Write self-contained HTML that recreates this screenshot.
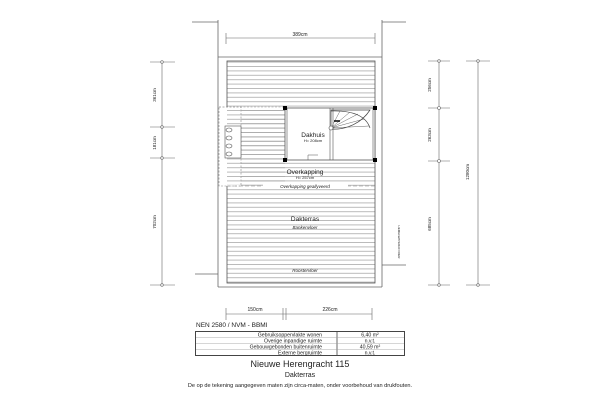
<!DOCTYPE html>
<html><head><meta charset="utf-8"><style>
body{margin:0;background:#fff;width:600px;height:400px;overflow:hidden}
svg text{font-family:"Liberation Sans",sans-serif;fill:#222}
</style></head><body>
<svg width="600" height="400" viewBox="0 0 600 400" xmlns="http://www.w3.org/2000/svg">
<defs>
<pattern id="h" width="10" height="4.4" patternUnits="userSpaceOnUse"><line x1="0" y1="0.5" x2="10" y2="0.5" stroke="#aaa" stroke-width="0.8"/></pattern>
</defs>
<g stroke="#666" stroke-width="0.8" fill="none">
<line x1="218" y1="20" x2="218" y2="287"/>
<line x1="382" y1="20" x2="382" y2="287"/>
<line x1="218" y1="287" x2="382" y2="287"/>
<line x1="218" y1="57" x2="382" y2="57"/>
<line x1="192" y1="22" x2="218" y2="22"/>
<line x1="382" y1="22" x2="406" y2="22"/>
<line x1="195" y1="274" x2="218" y2="274"/>
<line x1="382" y1="265" x2="406" y2="265"/>
</g>
<rect x="227" y="61" width="148" height="222" fill="url(#h)" stroke="#555" stroke-width="0.8"/>
<rect x="219" y="107" width="22" height="79" fill="#fff" stroke="#888" stroke-width="0.6" stroke-dasharray="2,1.5"/>
<rect x="227" y="108" width="58" height="77" fill="url(#h)" stroke="none"/>
<line x1="219" y1="107" x2="285" y2="107" stroke="#999" stroke-width="0.6" stroke-dasharray="2,1.5"/>
<g fill="#fff" stroke="#555" stroke-width="0.6">
<rect x="225" y="126" width="16" height="32"/>
<ellipse cx="229" cy="130" rx="3" ry="2"/><ellipse cx="229" cy="138" rx="3" ry="2"/><ellipse cx="229" cy="146" rx="3" ry="2"/><ellipse cx="229" cy="154" rx="3" ry="2"/>
</g>
<rect x="285" y="108" width="90" height="52" fill="#fff" stroke="#555" stroke-width="0.8"/>
<line x1="287" y1="108" x2="287" y2="160" stroke="#555" stroke-width="0.6"/>
<line x1="373" y1="108" x2="373" y2="160" stroke="#555" stroke-width="0.6"/>
<line x1="330" y1="108" x2="330" y2="160" stroke="#555" stroke-width="0.6"/>
<line x1="333" y1="108" x2="333" y2="160" stroke="#555" stroke-width="0.6"/>
<path d="M331 129 A42 40 0 0 0 370 110 L331 110 Z" fill="none" stroke="#444" stroke-width="0.7"/>
<path d="M331 111 Q364 110 370 128" fill="none" stroke="#444" stroke-width="0.7"/>
<g stroke="#666" stroke-width="0.5"><line x1="331" y1="128" x2="340" y2="111"/><line x1="331" y1="128" x2="350" y2="112"/><line x1="331" y1="128" x2="358" y2="114"/><line x1="331" y1="128" x2="364" y2="119"/><line x1="331" y1="128" x2="369" y2="126"/></g>
<line x1="334" y1="121" x2="340" y2="121" stroke="#000" stroke-width="1.5"/>
<circle cx="331" cy="128" r="2" fill="#fff" stroke="#444" stroke-width="0.6"/>
<g fill="#000"><rect x="283" y="106" width="4" height="4"/><rect x="373" y="106" width="4" height="4"/><rect x="283" y="158" width="4" height="4"/><rect x="373" y="158" width="4" height="4"/></g>
<path d="M308 160 V155 H318" fill="none" stroke="#555" stroke-width="0.5"/>
<text x="313" y="137" font-size="6.5" text-anchor="middle">Dakhuis</text>
<text x="313" y="142" font-size="4" text-anchor="middle">H= 208cm</text>
<text x="305" y="174" font-size="6.5" text-anchor="middle">Overkapping</text>
<text x="305" y="179" font-size="4" text-anchor="middle">H= 257cm</text>
<line x1="227" y1="186" x2="375" y2="186" stroke="#888" stroke-width="0.6" stroke-dasharray="4,2"/>
<rect x="263" y="183.5" width="85" height="5" fill="#fff"/>
<text x="305" y="188" font-size="4.5" text-anchor="middle" font-style="italic">Overkapping geallyveerd</text>
<text x="305" y="221" font-size="6.5" text-anchor="middle">Dakterras</text>
<text x="305" y="229" font-size="4.5" text-anchor="middle" font-style="italic">Bankenvloer</text>
<text x="305" y="272" font-size="4.5" text-anchor="middle" font-style="italic">Roostervloer</text>
<g stroke="#666" stroke-width="0.6" fill="#fff">
<line x1="226" y1="38" x2="375" y2="38"/>
<line x1="226" y1="33" x2="226" y2="44"/><line x1="375" y1="33" x2="375" y2="44"/>
<line x1="162" y1="61" x2="162" y2="286"/>
<line x1="439" y1="61" x2="439" y2="286"/>
<line x1="478" y1="61" x2="478" y2="286"/>
<line x1="226" y1="314" x2="372" y2="314"/>
<line x1="150" y1="62" x2="175" y2="62"/><line x1="150" y1="127" x2="175" y2="127"/><line x1="150" y1="158" x2="175" y2="158"/><line x1="150" y1="285" x2="175" y2="285"/>
<line x1="428" y1="61" x2="450" y2="61"/><line x1="428" y1="108" x2="450" y2="108"/><line x1="428" y1="161" x2="450" y2="161"/><line x1="428" y1="285" x2="450" y2="285"/>
<line x1="466" y1="61" x2="490" y2="61"/><line x1="466" y1="285" x2="490" y2="285"/>
<line x1="226" y1="308" x2="226" y2="320"/><line x1="283" y1="308" x2="283" y2="320"/><line x1="286" y1="308" x2="286" y2="320"/><line x1="372" y1="308" x2="372" y2="320"/>
<circle cx="162" cy="62" r="1.3"/><circle cx="162" cy="127" r="1.3"/><circle cx="162" cy="158" r="1.3"/><circle cx="162" cy="285" r="1.3"/>
<circle cx="439" cy="61" r="1.3"/><circle cx="439" cy="108" r="1.5"/><circle cx="439" cy="161" r="1.5"/><circle cx="439" cy="285" r="1.3"/>
<circle cx="478" cy="61" r="1.3"/><circle cx="478" cy="285" r="1.3"/>
</g>
<text x="300" y="36" font-size="5" text-anchor="middle">389cm</text>
<text x="255" y="311" font-size="5" text-anchor="middle">150cm</text>
<text x="330" y="311" font-size="5" text-anchor="middle">226cm</text>
<g font-size="4.5" text-anchor="middle">
<text transform="translate(156,95) rotate(-90)">361cm</text>
<text transform="translate(156,143) rotate(-90)">181cm</text>
<text transform="translate(156,222) rotate(-90)">702cm</text>
<text transform="translate(431,85) rotate(-90)">256cm</text>
<text transform="translate(431,135) rotate(-90)">263cm</text>
<text transform="translate(431,224) rotate(-90)">685cm</text>
<text transform="translate(469,172) rotate(-90)">1280cm</text>
<text transform="translate(398,242) rotate(90)" font-size="3">HEMELWATERAFVOER</text>
</g>
<text x="196" y="327" font-size="6.5">NEN 2580 / NVM - BBMI</text>
<rect x="195.5" y="331.5" width="209" height="24" fill="#fff" stroke="#444" stroke-width="1"/>
<line x1="337" y1="331" x2="337" y2="356" stroke="#444" stroke-width="0.8"/>
<g stroke="#999" stroke-width="0.4"><line x1="196" y1="337.5" x2="404" y2="337.5"/><line x1="196" y1="343.5" x2="404" y2="343.5"/><line x1="196" y1="349.5" x2="404" y2="349.5"/></g>
<g font-size="5.2" text-anchor="end"><text x="322" y="336.5">Gebruiksoppervlakte wonen</text><text x="322" y="342.5">Overige inpandige ruimte</text><text x="322" y="348.5">Gebouwgebonden buitenruimte</text><text x="322" y="354.5">Externe bergruimte</text></g>
<g font-size="5.2" text-anchor="middle"><text x="370" y="336.5">6,40 m²</text><text x="370" y="342.5">n.v.t.</text><text x="370" y="348.5">40,59 m²</text><text x="370" y="354.5">n.v.t.</text></g>
<text x="300" y="367" font-size="9" text-anchor="middle">Nieuwe Herengracht 115</text>
<text x="300" y="377" font-size="7" text-anchor="middle">Dakterras</text>
<text x="300" y="387" font-size="5.6" text-anchor="middle">De op de tekening aangegeven maten zijn circa-maten, onder voorbehoud van drukfouten.</text>
</svg>
</body></html>
